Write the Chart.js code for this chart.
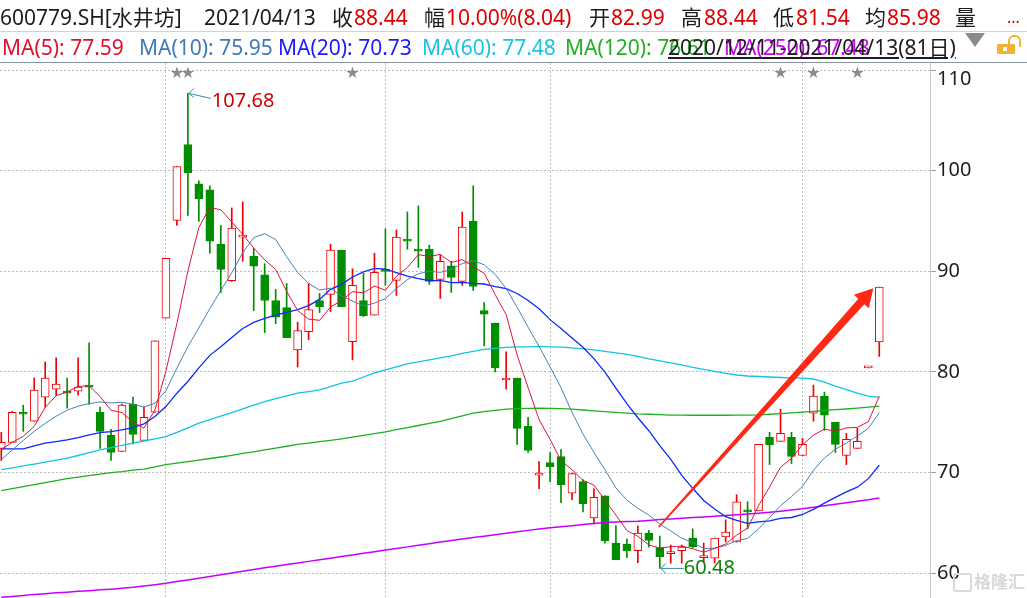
<!DOCTYPE html>
<html>
<head>
<meta charset="utf-8">
<script src="https://cdn.jsdelivr.net/npm/chart.js@4/dist/chart.umd.min.js"></script>
<style>
  html, body { margin: 0; padding: 0; background: #fff; }
  #wrap { position: relative; width: 1027px; height: 598px; overflow: hidden; background: #fff; }
  #c { position: absolute; left: 0; top: 0; }
  .t { position: absolute; white-space: nowrap; font-family: "Noto Sans", "Noto Sans CJK SC", sans-serif; font-size: 21px; line-height: 30px; }
  .sep { position: absolute; left: 0; width: 1027px; height: 1px; }
</style>
</head>
<body>
<div id="wrap">
  <canvas id="c" width="1027" height="598"></canvas>
  <div class="sep" style="top:31px;background:#d2d2d2"></div>
  <div class="sep" style="top:62px;background:#8794a1"></div>
  <div id="hdr"></div>
  <div style="position:absolute;left:965px;top:33px;width:0;height:0;border-left:10px solid transparent;border-right:10px solid transparent;border-top:14px solid #8a8a8a"></div>
  <div style="position:absolute;left:997px;top:44px;width:18px;height:10px;background:#f2b233;border-radius:1px"></div>
  <div style="position:absolute;left:1003px;top:47px;width:4px;height:4px;background:#fff"></div>
  <div style="position:absolute;left:1008px;top:35px;width:9px;height:10px;border:2px solid #f2b233;border-bottom:none;border-radius:6px 6px 0 0"></div>
  <div style="position:absolute;left:953px;top:573px;width:15px;height:15px;border:2px solid #dadada;border-radius:3px"></div>
  <div class="t" style="left:974px;top:566px;font-size:17px;font-weight:bold;color:#d8d8d8;font-family:'Noto Sans CJK SC'">格隆汇</div>
</div>
<script>
// ---- trading days ----
const dates = [
  '2020/12/11','2020/12/14','2020/12/15','2020/12/16','2020/12/17','2020/12/18','2020/12/21','2020/12/22','2020/12/23','2020/12/24','2020/12/25','2020/12/28','2020/12/29','2020/12/30','2020/12/31',
  '2021/01/04','2021/01/05','2021/01/06','2021/01/07','2021/01/08','2021/01/11','2021/01/12','2021/01/13','2021/01/14','2021/01/15','2021/01/18','2021/01/19','2021/01/20','2021/01/21','2021/01/22','2021/01/25','2021/01/26','2021/01/27','2021/01/28','2021/01/29',
  '2021/02/01','2021/02/02','2021/02/03','2021/02/04','2021/02/05','2021/02/08','2021/02/09','2021/02/10','2021/02/18','2021/02/19','2021/02/22','2021/02/23','2021/02/24','2021/02/25','2021/02/26',
  '2021/03/01','2021/03/02','2021/03/03','2021/03/04','2021/03/05','2021/03/08','2021/03/09','2021/03/10','2021/03/11','2021/03/12','2021/03/15','2021/03/16','2021/03/17','2021/03/18','2021/03/19','2021/03/22','2021/03/23','2021/03/24','2021/03/25','2021/03/26','2021/03/29','2021/03/30','2021/03/31',
  '2021/04/01','2021/04/02','2021/04/06','2021/04/07','2021/04/08','2021/04/09','2021/04/12','2021/04/13'
];

// ---- daily prices ----
const open = [
  72.4, 73.0, 75.9, 75.1, 77.5, 78.3, 78.1, 78.1, 78.6, 76.0,
  73.7, 72.1, 76.8, 73.2, 76.0, 85.35, 95.05, 102.6, 98.7, 98.1,
  92.7, 89.06, 93.4, 91.5, 89.65, 87.1, 86.4, 82.2, 84.0, 87.1,
  87.7, 92.1, 83.0, 87.1, 85.65, 90.1, 89.1, 93.1, 92.1, 92.2,
  89.2, 90.55, 89.0, 95.0, 86.1, 84.85, 79.2, 79.4, 74.6, 69.75,
  71.0, 71.6, 67.95, 69.1, 65.5, 67.7, 63.0, 62.9, 62.25, 64.0,
  62.55, 61.95, 62.25, 63.5, 61.55, 61.5, 63.6, 63.1, 66.2, 66.2,
  73.5, 73.1, 73.5, 71.7, 75.9, 77.6, 75.0, 71.7, 72.4, 80.4,
  82.99
];
const high = [
  74.0, 76.1, 76.7, 79.4, 81.0, 81.4, 79.4, 81.4, 82.9, 76.5,
  74.3, 76.8, 77.5, 76.5, 83.1, 91.3, 100.4, 107.68, 99.0, 98.5,
  94.55, 96.3, 96.9, 92.3, 90.75, 88.2, 88.8, 84.95, 88.8, 87.8,
  92.7, 92.1, 90.25, 89.8, 91.8, 94.2, 94.1, 95.9, 96.5, 92.6,
  91.6, 91.0, 95.9, 98.5, 86.9, 84.85, 82.0, 79.4, 75.5, 71.1,
  72.0, 72.3, 69.95, 69.3, 68.4, 67.7, 64.7, 63.4, 64.7, 64.25,
  63.7, 62.8, 62.8, 64.4, 63.0, 63.5, 65.3, 67.8, 67.1, 72.8,
  74.0, 76.3, 74.0, 73.4, 78.7, 78.0, 75.0, 73.9, 74.4, 80.4,
  88.44
];
const low = [
  71.2, 73.0, 74.1, 75.1, 76.5, 77.65, 76.4, 77.7, 76.8, 72.4,
  71.2, 72.1, 72.85, 73.2, 76.0, 85.35, 94.55, 95.55, 94.95, 91.8,
  87.9, 89.0, 91.0, 86.1, 83.9, 84.8, 83.4, 80.5, 83.2, 85.9,
  86.0, 86.5, 81.2, 85.5, 85.65, 88.6, 87.6, 92.2, 90.4, 88.7,
  87.3, 87.9, 88.6, 88.1, 82.6, 80.0, 78.3, 72.8, 72.0, 68.4,
  69.1, 67.0, 67.3, 66.1, 64.9, 63.0, 61.35, 61.55, 61.05, 62.6,
  60.48, 61.0, 61.0, 62.5, 61.15, 61.0, 63.1, 63.1, 64.4, 66.2,
  70.8, 73.1, 70.9, 71.7, 75.1, 74.2, 72.0, 70.8, 72.4, 80.4,
  81.54
];
const close = [
  73.0, 76.0, 75.8, 78.2, 79.4, 78.8, 77.9, 78.5, 78.5, 74.1,
  72.0, 76.7, 73.8, 75.5, 83.1, 91.3, 100.4, 99.8, 97.2, 93.0,
  90.2, 94.3, 93.6, 90.5, 87.1, 85.45, 83.4, 84.1, 86.2, 86.5,
  92.1, 86.5, 88.6, 85.6, 89.9, 90.0, 93.4, 93.0, 92.0, 89.0,
  91.0, 89.4, 94.4, 88.5, 85.75, 80.4, 79.4, 74.4, 72.2, 69.95,
  70.6, 68.8, 69.9, 66.9, 67.55, 63.2, 61.35, 62.25, 64.0, 63.25,
  61.65, 62.0, 62.6, 62.65, 61.6, 63.5, 64.1, 67.1, 66.1, 72.8,
  72.75, 73.9, 71.6, 72.8, 77.6, 75.7, 72.8, 73.3, 73.1, 80.4,
  88.44
];
const avgPrice = 85.98;

// ---- moving averages ----
const ma5 = [
  72.3, 73.0, 73.6, 74.6, 76.48, 77.64, 78.02, 78.56, 78.62, 77.56,
  76.2, 75.96, 75.02, 74.42, 76.22, 80.08, 84.82, 90.02, 94.36, 96.34,
  96.12, 94.9, 93.66, 92.32, 91.14, 90.19, 88.01, 86.11, 85.25, 85.13,
  86.46, 87.08, 87.98, 87.86, 88.54, 88.12, 89.5, 90.38, 91.66, 91.48,
  91.68, 90.88, 91.16, 90.46, 89.81, 87.69, 85.69, 81.69, 78.43, 75.27,
  73.31, 71.19, 70.29, 69.23, 68.75, 67.27, 65.78, 64.25, 63.67, 62.81,
  62.5, 62.63, 62.7, 62.43, 62.1, 62.47, 62.89, 63.79, 64.48, 66.72,
  68.57, 70.53, 71.43, 72.77, 73.73, 74.32, 74.1, 74.44, 74.5, 75.06,
  77.59
];
const ma10 = [
  71.3, 72.25, 73.2, 74.1, 74.9, 75.6, 76.2, 76.6, 76.85, 77.02,
  76.92, 76.99, 76.79, 76.52, 76.89, 78.14, 80.39, 82.52, 84.39, 86.28,
  88.1, 89.86, 91.84, 93.34, 93.74, 93.16, 91.46, 89.89, 88.79, 88.14,
  88.33, 87.55, 87.05, 86.56, 86.84, 87.29, 88.29, 89.18, 89.76, 90.01,
  89.9, 90.19, 90.77, 91.06, 90.65, 89.69, 88.29, 86.43, 84.45, 82.54,
  80.5, 78.44, 75.99, 73.83, 72.01, 70.29, 68.49, 67.27, 66.45, 65.78,
  64.89, 64.21, 63.48, 63.05, 62.46, 62.49, 62.76, 63.25, 63.46, 64.41,
  65.52, 66.71, 67.61, 68.63, 70.23, 71.45, 72.32, 72.94, 73.64, 74.39,
  75.95
];
const ma20 = [
  72.36, 72.36, 72.36, 72.65, 72.92, 73.08, 73.25, 73.48, 73.75, 73.98,
  74.08, 74.25, 74.48, 74.84, 75.57, 76.56, 77.89, 79.05, 80.4, 81.65,
  82.51, 83.43, 84.32, 84.93, 85.32, 85.65, 85.92, 86.2, 86.59, 87.21,
  88.21, 88.7, 89.44, 89.95, 90.29, 90.22, 89.87, 89.53, 89.27, 89.07,
  89.11, 88.87, 88.91, 88.81, 88.74, 88.49, 88.29, 87.8, 87.1, 86.28,
  85.2, 84.32, 83.38, 82.45, 81.33, 79.99, 78.39, 76.85, 75.45, 74.16,
  72.69, 71.32, 69.73, 68.44, 67.23, 66.39, 65.62, 65.26, 64.95, 65.1,
  65.2, 65.46, 65.54, 65.84, 66.34, 66.97, 67.54, 68.09, 68.55, 69.4,
  70.73
];
const ma60 = [
  70.3, 70.48, 70.66, 70.84, 71.04, 71.24, 71.43, 71.7, 71.98, 72.26,
  72.48, 72.7, 72.92, 73.14, 73.36, 73.58, 74.0, 74.45, 74.91, 75.26,
  75.61, 75.96, 76.33, 76.7, 77.06, 77.34, 77.62, 77.89, 78.05, 78.22,
  78.55, 78.89, 79.1, 79.5, 79.9, 80.2, 80.5, 80.8, 81.0, 81.2,
  81.4, 81.6, 81.85, 82.05, 82.25, 82.35, 82.45, 82.5, 82.5, 82.55,
  82.5, 82.47, 82.4, 82.3, 82.2, 82.05, 81.9, 81.75, 81.55, 81.3,
  81.1, 80.9, 80.7, 80.45, 80.25, 80.05, 79.85, 79.7, 79.6, 79.55,
  79.5, 79.45, 79.42, 79.38, 79.3, 79.0, 78.6, 78.25, 77.9, 77.6,
  77.48
];
const ma120 = [
  68.2, 68.4, 68.6, 68.8, 69.0, 69.2, 69.4, 69.55, 69.7, 69.85,
  70.0, 70.1, 70.25, 70.35, 70.57, 70.8, 70.95, 71.1, 71.25, 71.4,
  71.55, 71.72, 71.9, 72.07, 72.25, 72.43, 72.62, 72.8, 72.93, 73.07,
  73.2, 73.35, 73.52, 73.7, 73.88, 74.05, 74.26, 74.47, 74.68, 74.89,
  75.1, 75.37, 75.64, 75.9, 76.05, 76.18, 76.3, 76.35, 76.38, 76.4,
  76.38, 76.35, 76.3, 76.22, 76.14, 76.06, 75.98, 75.91, 75.84, 75.8,
  75.76, 75.72, 75.71, 75.7, 75.7, 75.7, 75.7, 75.71, 75.72, 75.73,
  75.8, 75.87, 75.94, 76.0, 76.08, 76.17, 76.25, 76.32, 76.4, 76.5,
  76.61
];
const ma250 = [
  57.61, 57.7, 57.8, 57.9, 57.97, 58.05, 58.12, 58.2, 58.27, 58.35,
  58.42, 58.5, 58.6, 58.73, 58.86, 59.0, 59.17, 59.33, 59.5, 59.68,
  59.86, 60.03, 60.2, 60.37, 60.54, 60.7, 60.86, 61.02, 61.18, 61.34,
  61.5, 61.66, 61.82, 61.98, 62.14, 62.3, 62.46, 62.62, 62.78, 62.94,
  63.1, 63.25, 63.4, 63.54, 63.68, 63.83, 63.97, 64.12, 64.26, 64.4,
  64.51, 64.62, 64.73, 64.84, 64.95, 65.05, 65.1, 65.13, 65.17, 65.25,
  65.33, 65.4, 65.47, 65.53, 65.6, 65.67, 65.73, 65.8, 65.88, 65.97,
  66.05, 66.17, 66.28, 66.4, 66.55, 66.7, 66.85, 67.0, 67.15, 67.3,
  67.48
];

const yTicks = [60, 70, 80, 90, 100, 110];
const starDates = ['2021/01/05', '2021/01/06', '2021/01/27', '2021/03/30', '2021/04/02', '2021/04/09'];

// ---- colours ----
const UP = '#f00000', DOWN = '#008e00';
const maSeries = [
  { name: 'MA(5)',   data: ma5,   color: '#dc143c', text: '#e0102e', width: 1 },
  { name: 'MA(10)',  data: ma10,  color: '#4682b4', text: '#3f7bb6', width: 1 },
  { name: 'MA(20)',  data: ma20,  color: '#0a28ff', text: '#1a1aff', width: 1.3 },
  { name: 'MA(60)',  data: ma60,  color: '#10c4e4', text: '#18c4e6', width: 1.3 },
  { name: 'MA(120)', data: ma120, color: '#1fb01f', text: '#22b022', width: 1.3 },
  { name: 'MA(250)', data: ma250, color: '#c400ff', text: '#c800f0', width: 1.5 }
];

// ---- header text ----
const last = close.length - 1;
const hdr = document.getElementById('hdr');
function put(left, top, text, color, extra) {
  const s = document.createElement('div');
  s.className = 't';
  s.style.left = left + 'px';
  s.style.top = top + 'px';
  s.style.color = color;
  if (extra) Object.assign(s.style, extra);
  s.textContent = text;
  hdr.appendChild(s);
}
const INK = '#1c1c1c', RED = '#dd0000';
const chg = close[last] - close[last - 1];
const pct = chg / close[last - 1] * 100;
put(0, 2, '600779.SH[水井坊]', INK);
put(204, 2, dates[last], INK);
put(332, 2, '收', INK);  put(354, 2, close[last].toFixed(2), RED);
put(424, 2, '幅', INK);  put(446, 2, pct.toFixed(2) + '%(' + chg.toFixed(2) + ')', RED);
put(589, 2, '开', INK);  put(611, 2, open[last].toFixed(2), RED);
put(681, 2, '高', INK);  put(704, 2, high[last].toFixed(2), RED);
put(773, 2, '低', INK);  put(796, 2, low[last].toFixed(2), RED);
put(865, 2, '均', INK);  put(887, 2, avgPrice.toFixed(2), RED);
put(955, 2, '量', INK);
put(1007, 2, '...', RED, { fontSize: '16px' });

const legendLeft = [2, 139, 278, 422, 565, 724];
maSeries.forEach((m, k) => {
  put(legendLeft[k], 32, m.name + ': ' + m.data[m.data.length - 1].toFixed(2), m.text);
});
put(668, 32, dates[0] + '-' + dates[last] + '(' + dates.length + '日)', INK, { textDecoration: 'underline' });

// ---- derived positions ----
const idx = close.map((_, i) => i);
const isUp = idx.map(i => close[i] >= open[i]);
const monthStarts = idx.filter(i => i > 0 && dates[i].slice(5, 7) !== dates[i - 1].slice(5, 7));
const toXY = arr => arr.map((v, i) => ({ x: i, y: v }));

// ---- plugins ----
const yLabels = {
  id: 'yLabels',
  afterDraw(chart) {
    const s = chart.scales.y, ctx = chart.ctx;
    ctx.save();
    ctx.font = '20px "Noto Sans"';
    ctx.fillStyle = '#1e1e1e';
    ctx.textAlign = 'left';
    ctx.textBaseline = 'middle';
    yTicks.forEach(v => {
      let py = s.getPixelForValue(v);
      if (py < s.top + 15) py = s.top + 16;
      ctx.fillText(String(v), s.left + 7, py);
    });
    ctx.restore();
  }
};

const stars = {
  id: 'stars',
  afterDatasetsDraw(chart) {
    const { ctx, scales: { x }, chartArea } = chart;
    ctx.save();
    ctx.font = '16px "DejaVu Sans"';
    ctx.fillStyle = '#8a8a8a';
    ctx.textAlign = 'center';
    ctx.textBaseline = 'middle';
    starDates.forEach(d => {
      const i = dates.indexOf(d);
      if (i >= 0) ctx.fillText('★', x.getPixelForValue(i), chartArea.top + 11);
    });
    ctx.restore();
  }
};

const extrema = {
  id: 'extrema',
  afterDatasetsDraw(chart) {
    const { ctx, scales: { x, y } } = chart;
    let hi = 0, lo = 0;
    high.forEach((v, i) => { if (v > high[hi]) hi = i; });
    low.forEach((v, i) => { if (v < low[lo]) lo = i; });
    ctx.save();
    ctx.strokeStyle = '#2e8db0';
    ctx.lineWidth = 1;
    // highest price
    let px = x.getPixelForValue(hi) + 1, py = y.getPixelForValue(high[hi]);
    ctx.beginPath();
    ctx.moveTo(px + 5, py - 5); ctx.lineTo(px, py); ctx.lineTo(px + 5, py + 4);
    ctx.moveTo(px, py); ctx.lineTo(px + 22, py + 5);
    ctx.stroke();
    ctx.font = '20px "Noto Sans"';
    ctx.textBaseline = 'middle';
    ctx.fillStyle = '#d20000';
    ctx.fillText(high[hi].toFixed(2), px + 23, py + 8);
    // lowest price
    px = x.getPixelForValue(lo) + 1; py = y.getPixelForValue(low[lo]);
    ctx.beginPath();
    ctx.moveTo(px + 5, py - 5); ctx.lineTo(px, py); ctx.lineTo(px + 5, py + 5);
    ctx.moveTo(px, py); ctx.lineTo(px + 23, py);
    ctx.stroke();
    ctx.fillStyle = '#0b840b';
    ctx.fillText(low[lo].toFixed(2), px + 23, py);
    ctx.restore();
  }
};

// trend arrow, anchored in data space (day index, price)
const arrowFrom = { x: 59.9, y: 64.6 }, arrowTo = { x: 79.46, y: 88.33 };
const arrow = {
  id: 'arrow',
  afterDatasetsDraw(chart) {
    const { ctx, scales: { x, y } } = chart;
    const x0 = x.getPixelForValue(arrowFrom.x), y0 = y.getPixelForValue(arrowFrom.y);
    const x1 = x.getPixelForValue(arrowTo.x), y1 = y.getPixelForValue(arrowTo.y);
    const L = Math.hypot(x1 - x0, y1 - y0);
    const ux = (x1 - x0) / L, uy = (y1 - y0) / L, nx = -uy, ny = ux;
    const head = 18, hw = 10, sw0 = 0.8, sw1 = 4;
    const bx = x1 - ux * head, by = y1 - uy * head;
    ctx.save();
    ctx.fillStyle = '#ff2814';
    ctx.beginPath();
    ctx.moveTo(x0 + nx * sw0, y0 + ny * sw0);
    ctx.lineTo(bx + nx * sw1, by + ny * sw1);
    ctx.lineTo(bx + nx * hw, by + ny * hw);
    ctx.lineTo(x1, y1);
    ctx.lineTo(bx - nx * hw, by - ny * hw);
    ctx.lineTo(bx - nx * sw1, by - ny * sw1);
    ctx.lineTo(x0 - nx * sw0, y0 - ny * sw0);
    ctx.closePath();
    ctx.fill();
    ctx.restore();
  }
};

// ---- chart ----
const lineSets = maSeries.map(m => ({
  type: 'line',
  label: m.name,
  data: toXY(m.data),
  borderColor: m.color,
  borderWidth: m.width,
  pointRadius: 0,
  tension: 0,
  order: 1
}));

new Chart(document.getElementById('c'), {
  type: 'bar',
  data: {
    datasets: [
      ...lineSets,
      {
        type: 'bar',
        label: 'body',
        data: idx.map(i => ({ x: i, y: [open[i], close[i]] })),
        backgroundColor: idx.map(i => isUp[i] ? '#ffffff' : DOWN),
        borderColor: idx.map(i => isUp[i] ? UP : DOWN),
        borderWidth: 1,
        borderSkipped: false,
        barThickness: 8,
        minBarLength: 2,
        grouped: false,
        order: 5
      },
      {
        type: 'bar',
        label: 'wick',
        data: idx.map(i => ({ x: i, y: [low[i], high[i]] })),
        backgroundColor: idx.map(i => isUp[i] ? UP : DOWN),
        borderWidth: 0,
        barThickness: 1,
        minBarLength: 1,
        grouped: false,
        order: 6
      }
    ]
  },
  options: {
    responsive: false,
    animation: false,
    events: [],
    layout: { padding: { top: 63, left: 0, right: 0, bottom: 0 } },
    plugins: { legend: { display: false }, tooltip: { enabled: false } },
    scales: {
      x: {
        type: 'linear',
        offset: false,
        bounds: 'ticks',
        min: -0.118,
        max: 84.62,
        afterBuildTicks: s => { s.ticks = monthStarts.map(v => ({ value: v })); },
        afterFit: s => { s.height = 0; },
        ticks: { display: false },
        grid: { color: '#bdbdbd', drawTicks: false, offset: false },
        border: { display: false, dash: [2, 2] }
      },
      y: {
        position: 'right',
        min: 57.54,
        max: 110.7,
        afterBuildTicks: s => { s.ticks = yTicks.map(v => ({ value: v })); },
        afterFit: s => { s.width = 97; },
        ticks: { display: false },
        grid: { color: '#bdbdbd', tickLength: 6, tickColor: '#9a9a9a', tickBorderDash: [] },
        border: { display: true, color: '#c4c4c4', width: 1, dash: [2, 2] }
      }
    }
  },
  plugins: [yLabels, stars, extrema, arrow]
});
</script>
</body>
</html>
